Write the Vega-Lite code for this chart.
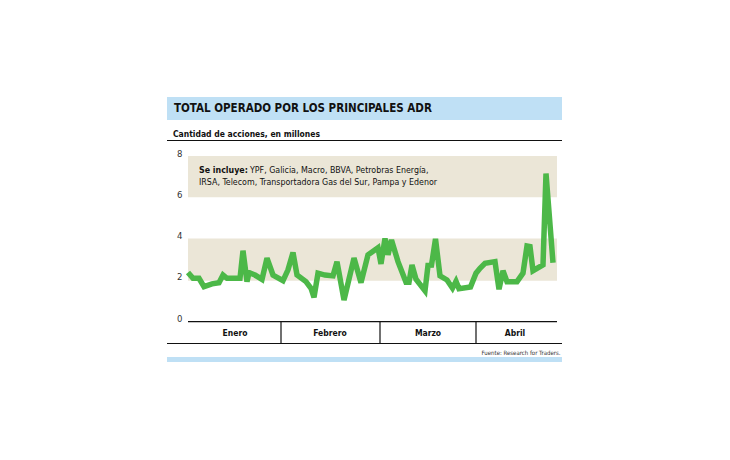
{
  "$schema": "https://vega.github.io/schema/vega-lite/v6.json",
  "width": 395,
  "height": 246,
  "autosize": "none",
  "padding": {"left": 167, "top": 97, "right": 168, "bottom": 117},
  "background": "#ffffff",
  "config": {
    "view": {"stroke": null},
    "font": "Liberation Sans Narrow, DejaVu Sans Condensed, sans-serif"
  },
  "datasets": {
    "adr": [
      {"t": 0, "v": 2.3}, {"t": 5, "v": 2.02}, {"t": 11, "v": 2.02}, {"t": 16, "v": 1.62},
      {"t": 24, "v": 1.75}, {"t": 31, "v": 1.81}, {"t": 35, "v": 2.18}, {"t": 39, "v": 2.02},
      {"t": 52, "v": 2.02}, {"t": 55, "v": 3.36}, {"t": 59, "v": 1.86}, {"t": 61, "v": 2.3},
      {"t": 67, "v": 2.18}, {"t": 74, "v": 1.97}, {"t": 79, "v": 3.0}, {"t": 85, "v": 2.18},
      {"t": 95, "v": 1.91}, {"t": 100, "v": 2.43}, {"t": 105, "v": 3.27}, {"t": 109, "v": 2.18},
      {"t": 118, "v": 1.86}, {"t": 123, "v": 1.54}, {"t": 126, "v": 1.1}, {"t": 130, "v": 2.27},
      {"t": 137, "v": 2.18}, {"t": 145, "v": 2.14}, {"t": 149, "v": 2.83}, {"t": 156, "v": 0.97},
      {"t": 166, "v": 3.0}, {"t": 173, "v": 1.81}, {"t": 180, "v": 3.16}, {"t": 190, "v": 3.5},
      {"t": 193, "v": 2.72}, {"t": 197, "v": 3.95}, {"t": 200, "v": 3.16}, {"t": 203.5, "v": 3.88},
      {"t": 210, "v": 2.83}, {"t": 218, "v": 1.83}, {"t": 221, "v": 1.83}, {"t": 224, "v": 2.67},
      {"t": 228, "v": 1.98}, {"t": 237, "v": 1.42}, {"t": 240, "v": 2.65}, {"t": 243.5, "v": 2.66},
      {"t": 247.5, "v": 3.93}, {"t": 252, "v": 2.14}, {"t": 259, "v": 1.94}, {"t": 264.5, "v": 1.55},
      {"t": 268, "v": 1.88}, {"t": 271, "v": 1.52}, {"t": 282.5, "v": 1.6}, {"t": 288, "v": 2.27},
      {"t": 292, "v": 2.51}, {"t": 297, "v": 2.75}, {"t": 307, "v": 2.83}, {"t": 311, "v": 1.49},
      {"t": 315, "v": 2.39}, {"t": 319, "v": 1.86}, {"t": 329, "v": 1.86}, {"t": 335, "v": 2.27},
      {"t": 339, "v": 3.59}, {"t": 342, "v": 3.56}, {"t": 345, "v": 2.39}, {"t": 355, "v": 2.67},
      {"t": 358, "v": 7.1}, {"t": 365, "v": 2.78}
    ],
    "bandas": [
      {"desde": 1.9, "hasta": 3.95},
      {"desde": 5.95, "hasta": 7.95}
    ],
    "meses": [
      {"mes": "Enero", "centro": 47},
      {"mes": "Febrero", "centro": 142},
      {"mes": "Marzo", "centro": 240},
      {"mes": "Abril", "centro": 327}
    ],
    "divisiones": [{"t": 93}, {"t": 192}, {"t": 288}]
  },
  "layer": [
    {
      "data": {"values": [{"titulo": "TOTAL OPERADO POR LOS PRINCIPALES ADR"}]},
      "layer": [
        {
          "mark": {"type": "rect", "fill": "#bfe0f5"},
          "encoding": {"x": {"value": 0}, "x2": {"value": 395}, "y": {"value": 0}, "y2": {"value": 23}}
        },
        {
          "mark": {"type": "text", "align": "left", "baseline": "middle", "fontSize": 11.5, "fontWeight": "bold", "color": "#111111"},
          "encoding": {"text": {"field": "titulo"}, "x": {"value": 7}, "y": {"value": 12}}
        }
      ]
    },
    {
      "data": {"values": [{"sub": "Cantidad de acciones, en millones"}]},
      "layer": [
        {
          "mark": {"type": "text", "align": "left", "baseline": "middle", "fontSize": 8.5, "fontWeight": "bold", "color": "#111111"},
          "encoding": {"text": {"field": "sub"}, "x": {"value": 6}, "y": {"value": 37}}
        },
        {
          "mark": {"type": "rule", "color": "#111111", "strokeWidth": 1},
          "encoding": {"x": {"value": 0}, "x2": {"value": 395}, "y": {"value": 43.5}}
        }
      ]
    },
    {
      "data": {"name": "bandas"},
      "mark": {"type": "rect", "fill": "#ebe6d7"},
      "encoding": {
        "x": {"datum": 0, "type": "quantitative", "scale": {"domain": [0, 369], "range": [21, 390], "nice": false, "zero": false}, "axis": null},
        "x2": {"datum": 369},
        "y": {"field": "desde", "type": "quantitative", "scale": {"domain": [0, 8], "range": [223, 58], "nice": false},
              "axis": {"title": null, "values": [0, 2, 4, 6, 8], "domain": false, "ticks": false, "grid": false,
                       "offset": -21, "labelPadding": 6, "labelFontSize": 9.5, "labelColor": "#333333",
                       "labelFont": "Liberation Sans Narrow, DejaVu Sans Condensed, sans-serif", "labelOffset": -2}},
        "y2": {"field": "hasta"}
      }
    },
    {
      "data": {"values": [{"a": "Se incluye:", "b": "YPF, Galicia, Macro, BBVA, Petrobras Energía,", "c": "IRSA, Telecom, Transportadora Gas del Sur, Pampa y Edenor"}]},
      "layer": [
        {
          "mark": {"type": "text", "align": "left", "baseline": "middle", "fontSize": 8.8, "fontWeight": "bold", "color": "#111111"},
          "encoding": {"text": {"field": "a"}, "x": {"datum": 11}, "y": {"datum": 7.27}}
        },
        {
          "mark": {"type": "text", "align": "left", "baseline": "middle", "fontSize": 8.8, "color": "#111111"},
          "encoding": {"text": {"field": "b"}, "x": {"datum": 62}, "y": {"datum": 7.27}}
        },
        {
          "mark": {"type": "text", "align": "left", "baseline": "middle", "fontSize": 8.8, "color": "#111111"},
          "encoding": {"text": {"field": "c"}, "x": {"datum": 11}, "y": {"datum": 6.67}}
        }
      ]
    },
    {
      "data": {"name": "adr"},
      "mark": {"type": "line", "color": "#4cb848", "strokeWidth": 5.5, "strokeJoin": "miter", "strokeMiterLimit": 3},
      "encoding": {
        "x": {"field": "t", "type": "quantitative"},
        "y": {"field": "v", "type": "quantitative"}
      }
    },
    {
      "data": {"values": [{}]},
      "mark": {"type": "rule", "color": "#111111", "strokeWidth": 1.2},
      "encoding": {"x": {"datum": 0}, "x2": {"datum": 369}, "y": {"datum": -0.08}}
    },
    {
      "data": {"name": "divisiones"},
      "mark": {"type": "rule", "color": "#111111", "strokeWidth": 1.2},
      "encoding": {"x": {"field": "t", "type": "quantitative"}, "y": {"datum": -0.08}, "y2": {"datum": -1.12}}
    },
    {
      "data": {"name": "meses"},
      "mark": {"type": "text", "align": "center", "baseline": "middle", "fontSize": 8.5, "fontWeight": "bold", "color": "#111111"},
      "encoding": {"text": {"field": "mes"}, "x": {"field": "centro", "type": "quantitative"}, "y": {"datum": -0.63}}
    },
    {
      "data": {"values": [{"fuente": "Fuente: Research for Traders."}]},
      "layer": [
        {
          "mark": {"type": "rule", "color": "#111111", "strokeWidth": 1.2},
          "encoding": {"x": {"value": 0}, "x2": {"value": 395}, "y": {"value": 246.5}}
        },
        {
          "mark": {"type": "text", "align": "right", "baseline": "middle", "fontSize": 6, "color": "#333333"},
          "encoding": {"text": {"field": "fuente"}, "x": {"value": 393.5}, "y": {"value": 256}}
        },
        {
          "mark": {"type": "rect", "fill": "#bfe0f5"},
          "encoding": {"x": {"value": 0}, "x2": {"value": 395}, "y": {"value": 260}, "y2": {"value": 265}}
        }
      ]
    }
  ]
}
